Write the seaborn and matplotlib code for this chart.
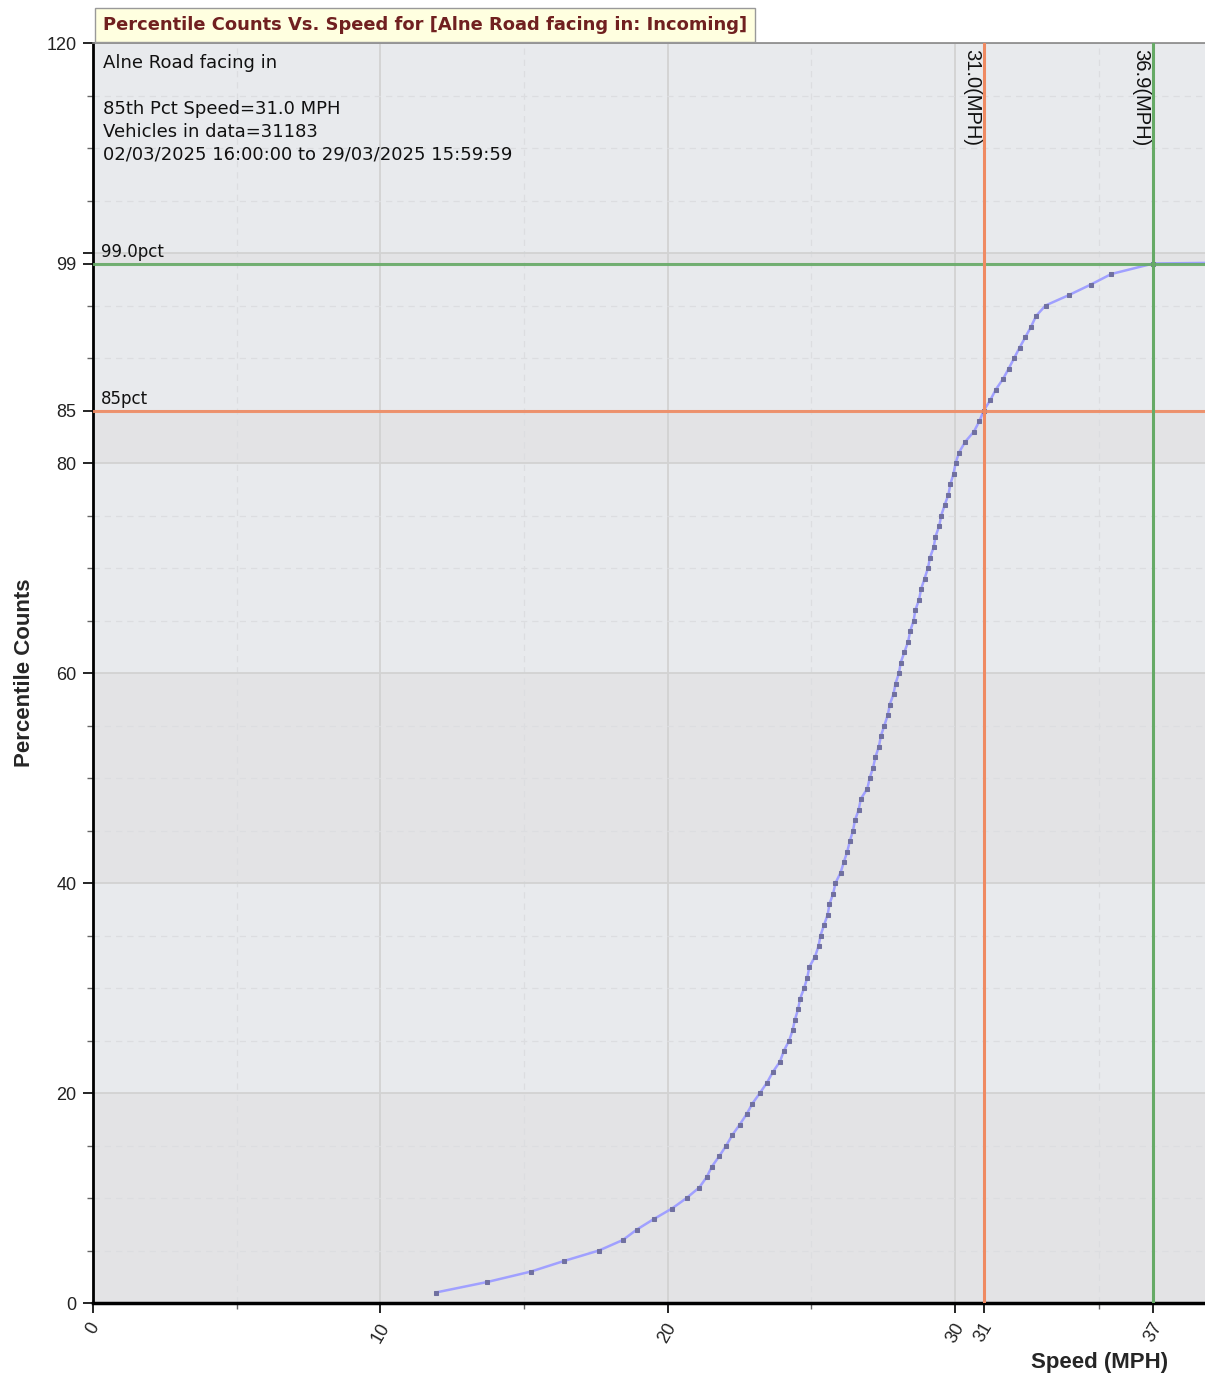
"""
Percentile counts vs. speed chart for Alne Road (facing in, incoming).
"""

import matplotlib
matplotlib.use('Agg')
import matplotlib.pyplot as plt
import seaborn as sns

# Percentile curve
percentiles = list(range(1, 101))
speeds = [
    11.93, 13.72, 15.25, 16.39, 17.61, 18.44, 18.93, 19.52, 20.15, 20.66,
    21.10, 21.36, 21.54, 21.80, 22.04, 22.25, 22.51, 22.75, 22.95, 23.21,
    23.46, 23.66, 23.91, 24.04, 24.23, 24.35, 24.43, 24.54, 24.61, 24.75,
    24.86, 24.93, 25.13, 25.25, 25.32, 25.44, 25.57, 25.63, 25.76, 25.84,
    26.02, 26.13, 26.25, 26.34, 26.45, 26.52, 26.65, 26.72, 26.95, 27.03,
    27.15, 27.23, 27.35, 27.42, 27.54, 27.66, 27.73, 27.86, 27.93, 28.05,
    28.11, 28.24, 28.37, 28.44, 28.56, 28.62, 28.75, 28.82, 28.94, 29.06,
    29.13, 29.26, 29.32, 29.45, 29.52, 29.64, 29.77, 29.84, 29.95, 30.02,
    30.14, 30.35, 30.66, 30.85, 31.00, 31.23, 31.42, 31.67, 31.87, 32.06,
    32.25, 32.45, 32.65, 32.82, 33.15, 33.97, 34.73, 35.44, 36.90, 70.00,
]

# Reference lines
pct_levels = [85, 99]
pct_labels = ['85pct', '99.0pct']
pct_speeds = [31.0, 36.9]
speed_labels = ['31.0(MPH)', '36.9(MPH)']
ref_colors = ['#ef8a62', '#66aa66']

# Axis ticks
x_major = [0, 10, 20, 30, 31.0, 36.9]
x_major_labels = ['0', '10', '20', '30', '31', '37']
x_minor = [5, 15, 25, 35]
y_major = [0, 20, 40, 60, 80, 85, 99, 100, 120]
y_major_labels = ['0', '20', '40', '60', '80', '85', '99', '', '120']
y_minor = [5, 10, 15, 25, 30, 35, 45, 50, 55, 65, 70, 75, 90, 95, 105, 110, 115]

title = 'Percentile Counts Vs. Speed for [Alne Road facing in: Incoming]'
info_lines = [
    'Alne Road facing in',
    '',
    '85th Pct Speed=31.0 MPH',
    'Vehicles in data=31183',
    '02/03/2025 16:00:00 to 29/03/2025 15:59:59',
]

W, H = 1205, 1376
BAND_DARK = '#e3e3e5'
BAND_LIGHT = '#e8eaed'

sns.set_style('ticks')
plt.rcParams['font.family'] = ['DejaVu Sans']

fig = plt.figure(figsize=(W / 100, H / 100), dpi=100)
ax = fig.add_axes([93 / W, 73 / H, 1112 / W, 1260 / H])
ax.set_facecolor(BAND_LIGHT)

# alternating bands between y major ticks
for i, (lo, hi) in enumerate(zip(y_major[:-1], y_major[1:])):
    ax.axhspan(lo, hi, color=BAND_DARK if i % 2 == 0 else BAND_LIGHT, lw=0, zorder=0)

# main curve
sns.lineplot(x=speeds, y=percentiles, ax=ax, color='#a0a0ff', lw=1.8,
             marker='s', markersize=3, markerfacecolor='#7070a0',
             markeredgecolor='#7070a0', zorder=3)

# reference lines + labels
for lvl, lab, col in zip(pct_levels, pct_labels, ref_colors):
    ax.axhline(lvl, color=col, lw=2.2, zorder=4, alpha=0.9)
    ax.annotate(lab, xy=(0, lvl), xytext=(6, 2), textcoords='offset points',
                ha='left', va='bottom', fontsize=12, color='#111')
for spd, lab, col in zip(pct_speeds, speed_labels, ref_colors):
    ax.axvline(spd, color=col, lw=2.2, zorder=4)
    ax.annotate(lab, xy=(spd, 120), xytext=(-2, -4), textcoords='offset points',
                rotation=270, ha='right', va='top', fontsize=14.5,
                family='Liberation Sans', color='#111')

ax.text(0.009, 0.991, '\n'.join(info_lines), transform=ax.transAxes,
        ha='left', va='top', fontsize=13, linespacing=1.34, color='#111')

ax.set_xlim(0, 38.7)
ax.set_ylim(0, 120)

ax.set_xticks(x_major)
ax.set_xticklabels(x_major_labels, rotation=60, ha='center',
                   family='Liberation Sans', fontsize=13, color='#222')
ax.set_xticks(x_minor, minor=True)
ax.set_yticks(y_major)
ax.set_yticklabels(y_major_labels, family='Liberation Sans', fontsize=13, color='#222')
ax.set_yticks(y_minor, minor=True)

ax.tick_params(which='major', length=7, width=1.2, color='black', pad=5,
               left=True, bottom=True, direction='out')
ax.tick_params(which='minor', length=4, width=1, color='#666',
               left=True, bottom=True, direction='out')

ax.set_axisbelow(True)
ax.grid(which='major', color='#d2d2d2', lw=1.3, ls='-')
ax.grid(which='minor', color='#dcdde0', lw=0.9, ls=(0, (5, 4)))

ax.spines['right'].set_visible(False)
ax.spines['top'].set_color('#888888')
ax.spines['top'].set_linewidth(1.2)
ax.spines['left'].set_color('black')
ax.spines['left'].set_linewidth(2)
ax.spines['bottom'].set_color('black')
ax.spines['bottom'].set_linewidth(2.5)

ax.set_ylabel('Percentile Counts', fontsize=16, fontweight='bold',
              family='Liberation Sans')
ax.yaxis.set_label_coords(-0.052, 0.5)
ax.set_xlabel('Speed (MPH)', fontsize=16, fontweight='bold',
              family='Liberation Sans')
ax.xaxis.set_label_coords(0.9056, -0.0389)

# title tab above the axes
fig.text(103 / W, 1 - 25 / H, title, ha='left', va='center', fontsize=12.9,
         fontweight='bold', color='#702020',
         bbox=dict(boxstyle='square,pad=0.42', fc='#ffffe0', ec='#999999', lw=1))

fig.savefig('out.png', dpi=100)
print('Saved: out.png')
